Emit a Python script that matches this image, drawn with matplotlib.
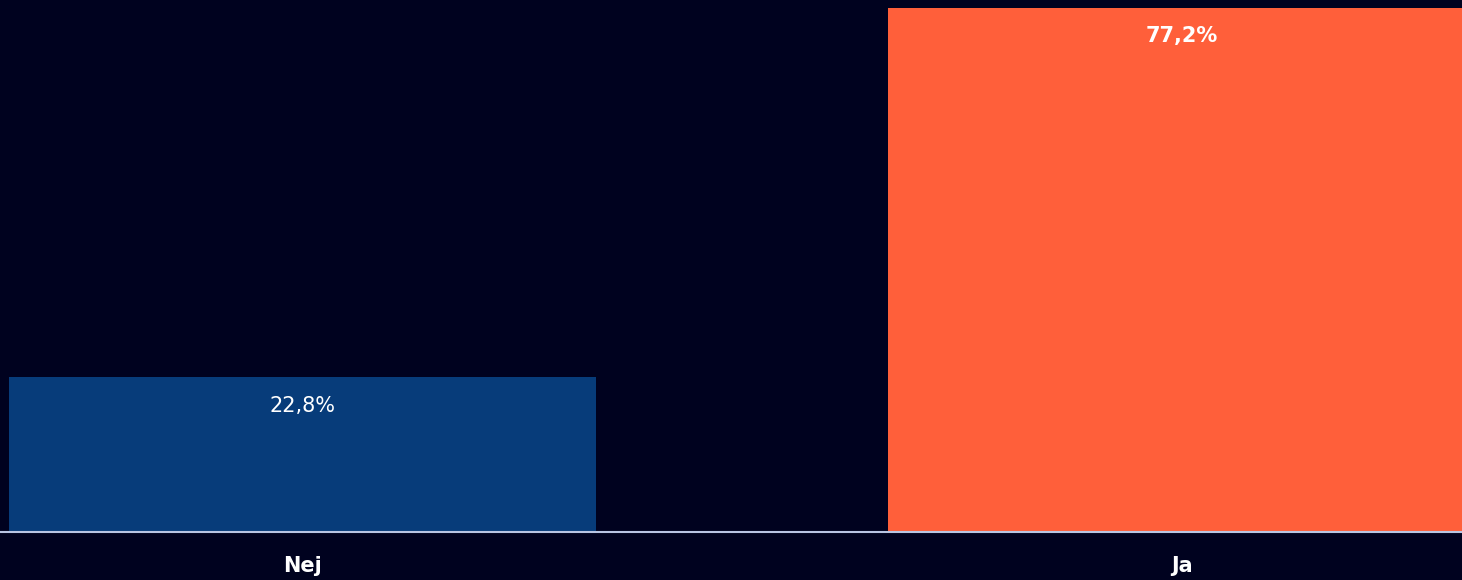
import matplotlib
matplotlib.use("Agg")
import matplotlib.pyplot as plt

categories = ["Nej", "Ja"]
values = [22.8, 77.2]
value_labels = ["22,8%", "77,2%"]
bar_colors = ["#073c7a", "#ff5f3a"]
label_weights = ["normal", "bold"]

BG = "#00021f"
FONT = ["DejaVu Sans"]

fig = plt.figure(figsize=(14.62, 5.8), dpi=100, facecolor=BG)
ax = fig.add_axes([0, 48 / 580, 1, 532 / 580])
ax.set_facecolor(BG)

x = list(range(len(categories)))
bars = ax.bar(x, values, width=0.668, color=bar_colors, zorder=2)

ax.set_xlim(-0.344, 1.319)
ax.set_ylim(0, max(values) * 532 / 524)

for bar, lab, w in zip(bars, value_labels, label_weights):
    ax.annotate(lab, (bar.get_x() + bar.get_width() / 2, bar.get_height()),
                xytext=(0, -20.5), textcoords="offset points",
                ha="center", va="center", color="white",
                fontsize=15, fontweight=w, family=FONT)

ax.set_xticks(x)
ax.set_xticklabels(categories, fontsize=15, fontweight="bold",
                   color="white", family=FONT)
ax.tick_params(axis="x", length=0, pad=17)
ax.set_yticks([])

for side in ["top", "left", "right"]:
    ax.spines[side].set_visible(False)
ax.spines["bottom"].set_color("#b9c5e3")
ax.spines["bottom"].set_linewidth(1.5)
ax.spines["bottom"].set_zorder(3)

fig.savefig("out.png", dpi=100, facecolor=BG)
